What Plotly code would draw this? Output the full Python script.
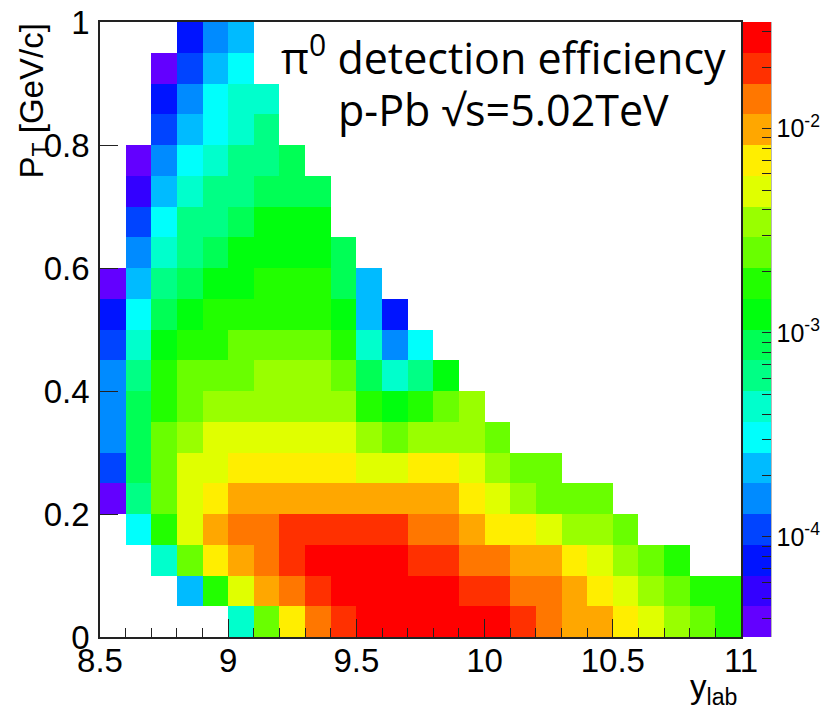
import math
import plotly.graph_objects as go

# ---- data: pi0 detection efficiency, p-Pb sqrt(s)=5.02 TeV ----
ylab_bins = [8.55, 8.65, 8.75, 8.85, 8.95, 9.05, 9.15, 9.25, 9.35, 9.45,
             9.55, 9.65, 9.75, 9.85, 9.95, 10.05, 10.15, 10.25, 10.35, 10.45,
             10.55, 10.65, 10.75, 10.85, 10.95]
pt_bins = [0.025, 0.075, 0.125, 0.175, 0.225, 0.275, 0.325, 0.375, 0.425, 0.475,
           0.525, 0.575, 0.625, 0.675, 0.725, 0.775, 0.825, 0.875, 0.925, 0.975]
N = None
eff_pt00 = [N, N, N, N, N, 4.50e-4, 2.55e-3, 7.21e-3, 1.44e-2, 2.04e-2, 2.88e-2, 2.88e-2, 2.88e-2,
            2.88e-2, 2.88e-2, 2.88e-2, 2.04e-2, 1.44e-2, 1.02e-2, 1.02e-2, 7.21e-3, 5.10e-3, 3.61e-3, 2.55e-3, 1.80e-3]
eff_pt05 = [N, N, N, 2.25e-4, 1.80e-3, 5.10e-3, 1.02e-2, 1.44e-2, 2.04e-2, 2.88e-2, 2.88e-2, 2.88e-2, 2.88e-2,
            2.88e-2, 2.04e-2, 2.04e-2, 1.44e-2, 1.44e-2, 1.02e-2, 7.21e-3, 5.10e-3, 3.61e-3, 2.55e-3, 1.80e-3, 1.80e-3]
eff_pt10 = [N, N, 4.50e-4, 2.55e-3, 7.21e-3, 1.02e-2, 1.44e-2, 2.04e-2, 2.88e-2, 2.88e-2, 2.88e-2, 2.88e-2, 2.04e-2,
            2.04e-2, 1.44e-2, 1.44e-2, 1.02e-2, 1.02e-2, 7.21e-3, 5.10e-3, 3.61e-3, 2.55e-3, 1.80e-3, N, N]
eff_pt15 = [N, 3.18e-4, 1.80e-3, 5.10e-3, 1.02e-2, 1.44e-2, 1.44e-2, 2.04e-2, 2.04e-2, 2.04e-2, 2.04e-2, 2.04e-2, 1.44e-2,
            1.44e-2, 1.02e-2, 7.21e-3, 7.21e-3, 5.10e-3, 3.61e-3, 3.61e-3, 2.55e-3, N, N, N, N]
eff_pt20 = [3.97e-5, 6.37e-4, 2.55e-3, 5.10e-3, 7.21e-3, 1.02e-2, 1.02e-2, 1.02e-2, 1.02e-2, 1.02e-2, 1.02e-2, 1.02e-2, 1.02e-2,
            1.02e-2, 7.21e-3, 5.10e-3, 3.61e-3, 2.55e-3, 2.55e-3, 2.55e-3, N, N, N, N, N]
eff_pt25 = [1.12e-4, 9.00e-4, 2.55e-3, 5.10e-3, 5.10e-3, 7.21e-3, 7.21e-3, 7.21e-3, 7.21e-3, 7.21e-3, 5.10e-3, 5.10e-3, 7.21e-3,
            7.21e-3, 5.10e-3, 3.61e-3, 2.55e-3, 2.55e-3, N, N, N, N, N, N, N]
eff_pt30 = [1.59e-4, 9.00e-4, 2.55e-3, 3.61e-3, 5.10e-3, 5.10e-3, 5.10e-3, 5.10e-3, 5.10e-3, 5.10e-3, 3.61e-3, 2.55e-3, 3.61e-3,
            3.61e-3, 3.61e-3, 2.55e-3, N, N, N, N, N, N, N, N, N]
eff_pt35 = [1.59e-4, 9.00e-4, 1.80e-3, 2.55e-3, 3.61e-3, 3.61e-3, 3.61e-3, 3.61e-3, 3.61e-3, 3.61e-3, 1.80e-3, 1.27e-3, 1.80e-3,
            2.55e-3, 3.61e-3, N, N, N, N, N, N, N, N, N, N]
eff_pt40 = [1.59e-4, 6.37e-4, 1.80e-3, 2.55e-3, 2.55e-3, 2.55e-3, 3.61e-3, 3.61e-3, 3.61e-3, 2.55e-3, 9.00e-4, 4.50e-4, 6.37e-4,
            1.27e-3, N, N, N, N, N, N, N, N, N, N, N]
eff_pt45 = [1.12e-4, 4.50e-4, 1.27e-3, 1.80e-3, 1.80e-3, 2.55e-3, 2.55e-3, 2.55e-3, 2.55e-3, 1.80e-3, 4.50e-4, 1.59e-4, 3.18e-4,
            N, N, N, N, N, N, N, N, N, N, N, N]
eff_pt50 = [7.95e-5, 3.18e-4, 9.00e-4, 1.27e-3, 1.80e-3, 1.80e-3, 1.80e-3, 1.80e-3, 1.80e-3, 1.27e-3, 2.25e-4, 7.95e-5, N,
            N, N, N, N, N, N, N, N, N, N, N, N]
eff_pt55 = [3.97e-5, 2.25e-4, 6.37e-4, 9.00e-4, 1.27e-3, 1.27e-3, 1.80e-3, 1.80e-3, 1.80e-3, 9.00e-4, 2.25e-4, N, N,
            N, N, N, N, N, N, N, N, N, N, N, N]
eff_pt60 = [N, 1.59e-4, 4.50e-4, 6.37e-4, 9.00e-4, 1.27e-3, 1.27e-3, 1.27e-3, 1.27e-3, 9.00e-4, N, N, N,
            N, N, N, N, N, N, N, N, N, N, N, N]
eff_pt65 = [N, 1.12e-4, 3.18e-4, 6.37e-4, 6.37e-4, 9.00e-4, 1.27e-3, 1.27e-3, 1.27e-3, N, N, N, N,
            N, N, N, N, N, N, N, N, N, N, N, N]
eff_pt70 = [N, 5.62e-5, 2.25e-4, 4.50e-4, 6.37e-4, 6.37e-4, 9.00e-4, 9.00e-4, 9.00e-4, N, N, N, N,
            N, N, N, N, N, N, N, N, N, N, N, N]
eff_pt75 = [N, 3.97e-5, 1.59e-4, 3.18e-4, 4.50e-4, 6.37e-4, 6.37e-4, 9.00e-4, N, N, N, N, N,
            N, N, N, N, N, N, N, N, N, N, N, N]
eff_pt80 = [N, N, 1.12e-4, 2.25e-4, 3.18e-4, 4.50e-4, 6.37e-4, N, N, N, N, N, N,
            N, N, N, N, N, N, N, N, N, N, N, N]
eff_pt85 = [N, N, 7.95e-5, 1.59e-4, 3.18e-4, 4.50e-4, 4.50e-4, N, N, N, N, N, N,
            N, N, N, N, N, N, N, N, N, N, N, N]
eff_pt90 = [N, N, 3.97e-5, 1.12e-4, 2.25e-4, 3.18e-4, N, N, N, N, N, N, N,
            N, N, N, N, N, N, N, N, N, N, N, N]
eff_pt95 = [N, N, N, 7.95e-5, 1.59e-4, 2.25e-4, N, N, N, N, N, N, N,
            N, N, N, N, N, N, N, N, N, N, N, N]

eff_rows = [eff_pt00, eff_pt05, eff_pt10, eff_pt15, eff_pt20, eff_pt25, eff_pt30, eff_pt35,
            eff_pt40, eff_pt45, eff_pt50, eff_pt55, eff_pt60, eff_pt65, eff_pt70, eff_pt75,
            eff_pt80, eff_pt85, eff_pt90, eff_pt95]

# z-axis (log10) range of the palette
z_min_log = -4.49
z_max_log = -1.478
n_contours = 20

# ---- ROOT "pretty palette" (violet -> red), 20 contour levels ----
def hue_rgb(h):
    def ch(hh):
        hh = hh % 360
        if hh < 60:
            return hh / 60
        if hh < 180:
            return 1.0
        if hh < 240:
            return (240 - hh) / 60
        return 0.0
    r, g, b = ch(h + 120), ch(h), ch(h - 120)
    return "rgb(%d,%d,%d)" % (round(r * 255), round(g * 255), round(b * 255))

band_colors = []
for c in range(n_contours):
    idx = int((c + 0.99) * 50 / n_contours)
    idx = min(idx, 49)
    band_colors.append(hue_rgb(280 - (idx + 1) * 280 / 50))

colorscale = []
for c, col in enumerate(band_colors):
    colorscale.append([c / n_contours, col])
    colorscale.append([(c + 1) / n_contours, col])

z = [[(math.log10(v) if v is not None else None) for v in row] for row in eff_rows]

# colorbar ticks (log scale decades + minor ticks)
major_exp = [-4, -3, -2]
tick_vals, tick_text = [], []
for e in range(-5, -1):
    for k in range(1, 10):
        v = e + math.log10(k)
        if z_min_log <= v <= z_max_log:
            tick_vals.append(v)
            tick_text.append("10<sup>%d</sup>" % e if k == 1 else "")

FONT = "Liberation Sans, Arial, Helvetica, sans-serif"
L, R, T, B = 100, 80, 22, 76
W, H = 821, 713
plot_w = W - L - R
cb_x = 1.003
cb_thick = 28

fig = go.Figure()
fig.add_trace(go.Heatmap(
    x=ylab_bins, y=pt_bins, z=z,
    zmin=z_min_log, zmax=z_max_log,
    colorscale=colorscale, zsmooth=False, hoverongaps=False,
    colorbar=dict(
        x=cb_x, xanchor="left", y=0.5, yanchor="middle",
        len=1, lenmode="fraction", thickness=cb_thick, thicknessmode="pixels",
        xpad=0, ypad=0, outlinewidth=0,
        tickmode="array", tickvals=tick_vals, ticktext=tick_text,
        ticks="inside", ticklen=9, tickwidth=1, tickcolor="#222",
        tickfont=dict(family=FONT, size=25, color="black"),
    ),
))

# longer major ticks and the palette axis line
cb_right = cb_x + cb_thick / plot_w
shapes = [dict(type="line", xref="paper", yref="paper", x0=cb_right, x1=cb_right,
               y0=0, y1=1, line=dict(color="#555", width=1))]
for e in major_exp:
    yp = (e - z_min_log) / (z_max_log - z_min_log)
    shapes.append(dict(type="line", xref="paper", yref="paper",
                       x0=cb_right - 18 / plot_w, x1=cb_right, y0=yp, y1=yp,
                       line=dict(color="#222", width=1)))

fig.update_layout(
    width=W, height=H,
    margin=dict(l=L, r=R, t=T, b=B, autoexpand=False),
    paper_bgcolor="white", plot_bgcolor="white",
    font=dict(family=FONT, color="black"),
    shapes=shapes,
    xaxis=dict(
        range=[8.5, 11], tickmode="array", tickvals=[8.5, 9, 9.5, 10, 10.5, 11],
        ticktext=["8.5", "9", "9.5", "10", "10.5", "11"],
        ticks="inside", ticklen=18, tickwidth=1, tickcolor="#222",
        minor=dict(dtick=0.1, tick0=8.5, ticks="inside", ticklen=9, tickcolor="#222", showgrid=False),
        showgrid=False, zeroline=False,
        showline=True, linecolor="#222", linewidth=1.5, mirror=True,
        tickfont=dict(family=FONT, size=33), ticklabelstandoff=-6,
    ),
    yaxis=dict(
        range=[0, 1], tickmode="array", tickvals=[0, 0.2, 0.4, 0.6, 0.8, 1],
        ticktext=["0", "0.2", "0.4", "0.6", "0.8", "1"],
        ticks="inside", ticklen=18, tickwidth=1, tickcolor="#222",
        showgrid=False, zeroline=False,
        showline=True, linecolor="#222", linewidth=1.5, mirror=True,
        tickfont=dict(family=FONT, size=33), ticklabelstandoff=2,
    ),
    annotations=[
        dict(text="π<sup>0</sup> detection efficiency", xref="paper", yref="paper",
             x=0.629, y=0.945, xanchor="center", yanchor="middle", showarrow=False,
             font=dict(family="Open Sans, sans-serif", size=43, color="black")),
        dict(text="p-Pb √s=5.02TeV", xref="paper", yref="paper",
             x=0.629, y=0.857, xanchor="center", yanchor="middle", showarrow=False,
             font=dict(family="Open Sans, sans-serif", size=43, color="black")),
        dict(text="P<sub>T</sub> [GeV/c]", xref="paper", yref="paper",
             x=-0.1045, y=1.0, xanchor="center", yanchor="top", textangle=-90,
             showarrow=False, font=dict(family=FONT, size=33, color="black")),
        dict(text="y<sub>lab</sub>", xref="paper", yref="paper",
             x=0.997, y=-0.047, xanchor="right", yanchor="top",
             showarrow=False, font=dict(family=FONT, size=33, color="black")),
    ],
)

fig.write_html(
    "out.html",
    config={"displayModeBar": False},
    post_script="document.body.style.margin='0';document.body.style.overflow='hidden';",
)
